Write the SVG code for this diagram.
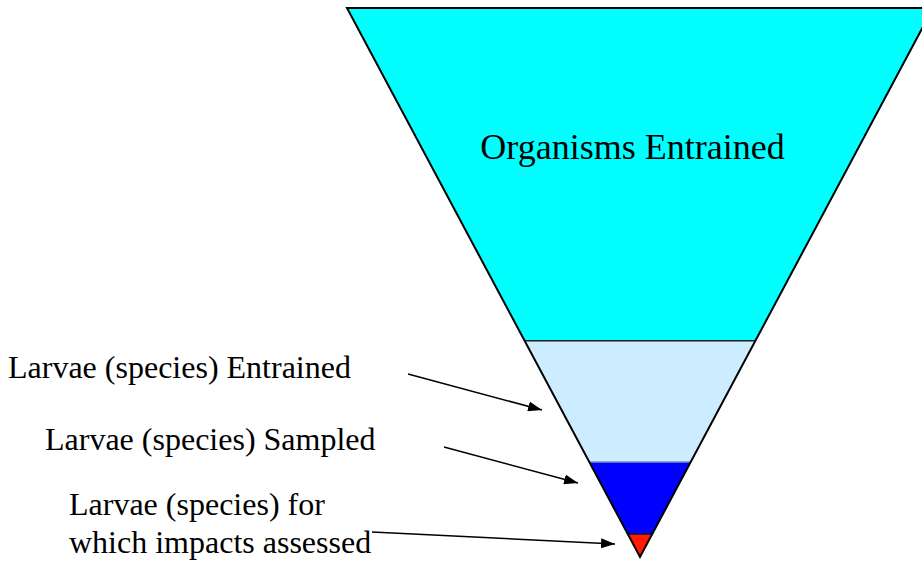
<svg xmlns="http://www.w3.org/2000/svg" width="922" height="562" viewBox="0 0 922 562">
<defs>
<style>
text{font-family:'Liberation Serif',serif;fill:#000}
.band{stroke:#1a1a1a;stroke-width:1.5}
.out{fill:none;stroke:#000;stroke-width:2;stroke-linejoin:miter}
.conn{stroke:#000;stroke-width:1.5;fill:none}
</style>
<marker id="ah2" viewBox="0 0 14 10" refX="14" refY="5" markerWidth="14" markerHeight="10" markerUnits="userSpaceOnUse" orient="auto">
<path d="M0,0 L14,5 L0,10 Z" fill="#000"/>
</marker>
</defs>
<rect width="922" height="562" fill="#fff"/>
<g id="organisms">
<polygon points="347,8 933,8 755.6,340.7 524.6,340.7" fill="#00FFFF"/>
<text font-family="Liberation Serif, serif" x="632.5" y="159" font-size="36" text-anchor="middle">Organisms Entrained</text>
</g>
<g id="larvae-entrained">
<polygon points="524.6,340.7 755.6,340.7 690.7,462 589.3,462" fill="#CCECFF"/>
<line class="band" x1="524.6" y1="340.7" x2="755.6" y2="340.7"/>
<text font-family="Liberation Serif, serif" x="8" y="378" font-size="32">Larvae (species) Entrained</text>
</g>
<g id="larvae-sampled">
<polygon points="589.3,462 690.7,462 652.3,534 627.7,534" fill="#0000FF"/>
<line x1="589.3" y1="462" x2="690.7" y2="462" stroke="#7a8fa8" stroke-width="1.5"/>
<text font-family="Liberation Serif, serif" x="45" y="450" font-size="32">Larvae (species) Sampled</text>
</g>
<g id="larvae-impacts">
<polygon points="627.7,534 652.3,534 640,557" fill="#FF1A00"/>
<line class="band" x1="627.7" y1="534" x2="652.3" y2="534"/>
<text font-family="Liberation Serif, serif" font-size="32"><tspan x="69" y="515">Larvae (species) for</tspan><tspan x="69" y="553">which impacts assessed</tspan></text>
</g>
<polygon class="out" points="347,8 933,8 640,557"/>
<g id="connectors">
<line class="conn" x1="408" y1="374" x2="542" y2="410" marker-end="url(#ah2)"/>
<line class="conn" x1="444" y1="447" x2="578" y2="483" marker-end="url(#ah2)"/>
<line class="conn" x1="372" y1="532" x2="615" y2="544" marker-end="url(#ah2)"/>
</g>
</svg>
